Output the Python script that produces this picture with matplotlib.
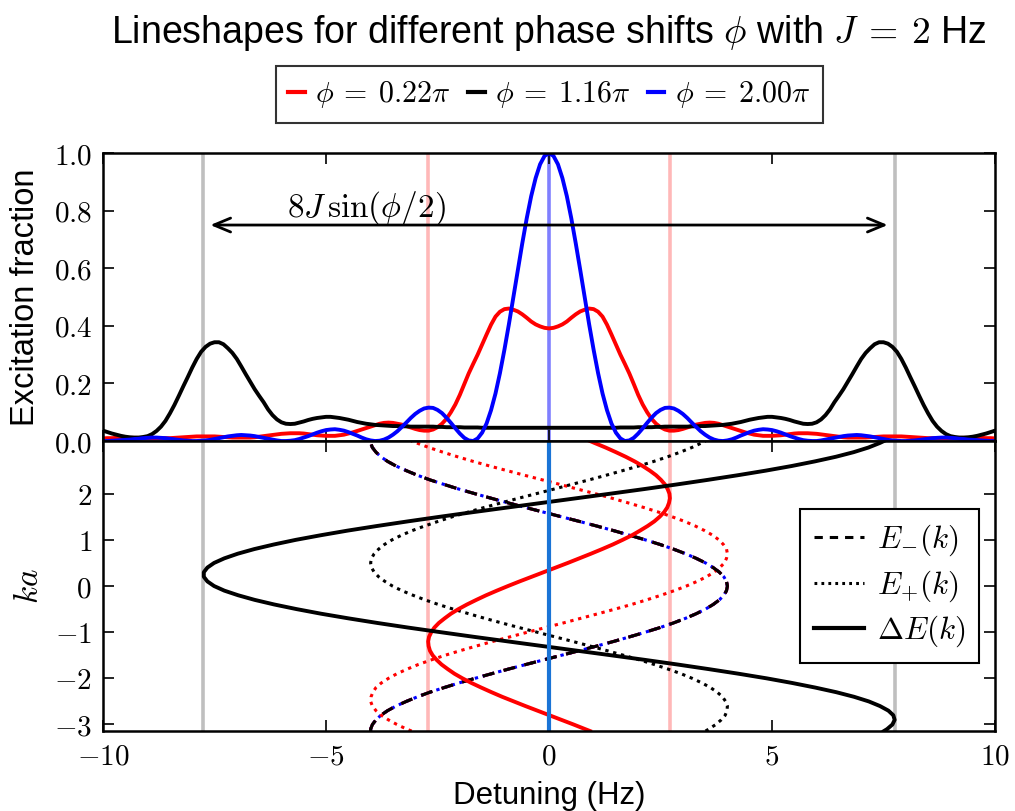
import numpy as np
import matplotlib
matplotlib.use("Agg")
import matplotlib.pyplot as plt
from matplotlib.lines import Line2D
from matplotlib.ticker import FuncFormatter, MultipleLocator, FixedLocator

plt.rcParams["font.family"] = ["Liberation Sans", "DejaVu Sans"]
plt.rcParams["mathtext.fontset"] = "cm"
plt.rcParams["lines.scale_dashes"] = False

# ---------------------------------------------------------------------------
# lineshapes, sampled every 0.1 Hz from -10 to 10 Hz
# ---------------------------------------------------------------------------
detuning = np.linspace(-10, 10, 201)

shape_022 = [
    0.009,
    0.010, 0.010, 0.011, 0.011, 0.011, 0.011, 0.011, 0.011, 0.010, 0.010,
    0.010, 0.010, 0.010, 0.010, 0.010, 0.011, 0.012, 0.013, 0.014, 0.015,
    0.016, 0.016, 0.016, 0.016, 0.016, 0.015, 0.014, 0.013, 0.012, 0.012,
    0.012, 0.012, 0.012, 0.013, 0.015, 0.017, 0.019, 0.021, 0.023, 0.025,
    0.026, 0.027, 0.027, 0.027, 0.026, 0.024, 0.022, 0.020, 0.019, 0.018,
    0.018, 0.018, 0.020, 0.022, 0.026, 0.030, 0.035, 0.040, 0.045, 0.050,
    0.055, 0.060, 0.063, 0.064, 0.063, 0.060, 0.057, 0.052, 0.047, 0.042,
    0.038, 0.036, 0.036, 0.040, 0.048, 0.060, 0.077, 0.100, 0.127, 0.160,
    0.198, 0.235, 0.268, 0.300, 0.335, 0.370, 0.404, 0.432, 0.449, 0.458,
    0.460, 0.456, 0.450, 0.440, 0.428, 0.415, 0.405, 0.398, 0.393,
    0.391,
    0.393, 0.398, 0.405, 0.415, 0.428, 0.440, 0.450, 0.456, 0.460,
    0.458, 0.449, 0.432, 0.404, 0.370, 0.335, 0.300, 0.268, 0.235, 0.198,
    0.160, 0.127, 0.100, 0.077, 0.060, 0.048, 0.040, 0.036, 0.036, 0.038,
    0.042, 0.047, 0.052, 0.057, 0.060, 0.063, 0.064, 0.063, 0.060, 0.055,
    0.050, 0.045, 0.040, 0.035, 0.030, 0.026, 0.022, 0.020, 0.018, 0.018,
    0.018, 0.019, 0.020, 0.022, 0.024, 0.026, 0.027, 0.027, 0.027, 0.026,
    0.025, 0.023, 0.021, 0.019, 0.017, 0.015, 0.013, 0.012, 0.012, 0.012,
    0.012, 0.012, 0.013, 0.014, 0.015, 0.016, 0.016, 0.016, 0.016, 0.016,
    0.015, 0.014, 0.013, 0.012, 0.011, 0.010, 0.010, 0.010, 0.010, 0.010,
    0.010, 0.010, 0.011, 0.011, 0.011, 0.011, 0.011, 0.011, 0.010, 0.010,
    0.009,
]
shape_116 = [
    0.036,
    0.031, 0.026, 0.022, 0.018, 0.015, 0.013, 0.012, 0.012, 0.014, 0.017,
    0.024, 0.035, 0.050, 0.070, 0.096, 0.125, 0.157, 0.190, 0.222, 0.255,
    0.285, 0.310, 0.327, 0.338, 0.343, 0.343, 0.336, 0.322, 0.306, 0.285,
    0.259, 0.232, 0.206, 0.180, 0.157, 0.135, 0.110, 0.090, 0.075, 0.065,
    0.060, 0.059, 0.060, 0.064, 0.068, 0.073, 0.077, 0.080, 0.082, 0.084,
    0.084, 0.082, 0.080, 0.077, 0.074, 0.070, 0.066, 0.063, 0.060, 0.058,
    0.056, 0.055, 0.054, 0.053, 0.052, 0.052, 0.051, 0.051, 0.050, 0.050,
    0.050, 0.050, 0.050, 0.050, 0.049, 0.049, 0.048, 0.048, 0.048, 0.048,
    0.047, 0.047, 0.047, 0.047, 0.046, 0.046, 0.046, 0.046, 0.046, 0.046,
    0.046, 0.046, 0.046, 0.046, 0.046, 0.046, 0.046, 0.046, 0.046,
    0.046,
    0.046, 0.046, 0.046, 0.046, 0.046, 0.046, 0.046, 0.046, 0.046,
    0.046, 0.046, 0.046, 0.046, 0.046, 0.046, 0.047, 0.047, 0.047, 0.047,
    0.048, 0.048, 0.048, 0.048, 0.049, 0.049, 0.050, 0.050, 0.050, 0.050,
    0.050, 0.050, 0.051, 0.051, 0.052, 0.052, 0.053, 0.054, 0.055, 0.056,
    0.058, 0.060, 0.063, 0.066, 0.070, 0.074, 0.077, 0.080, 0.082, 0.084,
    0.084, 0.082, 0.080, 0.077, 0.073, 0.068, 0.064, 0.060, 0.059, 0.060,
    0.065, 0.075, 0.090, 0.110, 0.135, 0.157, 0.180, 0.206, 0.232, 0.259,
    0.285, 0.306, 0.322, 0.336, 0.343, 0.343, 0.338, 0.327, 0.310, 0.285,
    0.255, 0.222, 0.190, 0.157, 0.125, 0.096, 0.070, 0.050, 0.035, 0.024,
    0.017, 0.014, 0.012, 0.012, 0.013, 0.015, 0.018, 0.022, 0.026, 0.031,
    0.036,
]
shape_200 = [
    0.000,
    0.000, 0.001, 0.002, 0.003, 0.004, 0.005, 0.007, 0.008, 0.010, 0.011,
    0.012, 0.012, 0.011, 0.010, 0.008, 0.006, 0.004, 0.002, 0.001, 0.000,
    0.000, 0.001, 0.002, 0.004, 0.007, 0.010, 0.013, 0.016, 0.018, 0.020,
    0.021, 0.020, 0.019, 0.017, 0.014, 0.011, 0.008, 0.005, 0.002, 0.000,
    0.000, 0.001, 0.003, 0.007, 0.012, 0.017, 0.023, 0.029, 0.034, 0.038,
    0.040, 0.041, 0.039, 0.036, 0.031, 0.025, 0.019, 0.012, 0.006, 0.002,
    0.000, 0.001, 0.005, 0.012, 0.022, 0.034, 0.049, 0.064, 0.080, 0.094,
    0.105, 0.113, 0.116, 0.115, 0.108, 0.097, 0.081, 0.063, 0.044, 0.026,
    0.011, 0.002, 0.000, 0.009, 0.029, 0.061, 0.107, 0.165, 0.236, 0.317,
    0.405, 0.499, 0.594, 0.686, 0.773, 0.850, 0.913, 0.961, 0.990,
    1.000,
    0.990, 0.961, 0.913, 0.850, 0.773, 0.686, 0.594, 0.499, 0.405,
    0.317, 0.236, 0.165, 0.107, 0.061, 0.029, 0.009, 0.000, 0.002, 0.011,
    0.026, 0.044, 0.063, 0.081, 0.097, 0.108, 0.115, 0.116, 0.113, 0.105,
    0.094, 0.080, 0.064, 0.049, 0.034, 0.022, 0.012, 0.005, 0.001, 0.000,
    0.002, 0.006, 0.012, 0.019, 0.025, 0.031, 0.036, 0.039, 0.041, 0.040,
    0.038, 0.034, 0.029, 0.023, 0.017, 0.012, 0.007, 0.003, 0.001, 0.000,
    0.000, 0.002, 0.005, 0.008, 0.011, 0.014, 0.017, 0.019, 0.020, 0.021,
    0.020, 0.018, 0.016, 0.013, 0.010, 0.007, 0.004, 0.002, 0.001, 0.000,
    0.000, 0.001, 0.002, 0.004, 0.006, 0.008, 0.010, 0.011, 0.012, 0.012,
    0.011, 0.010, 0.008, 0.007, 0.005, 0.004, 0.003, 0.002, 0.001, 0.000,
    0.000,
]

# ---------------------------------------------------------------------------
# band energies (Hz) vs quasimomentum ka
# ---------------------------------------------------------------------------
ka = np.concatenate([[-np.pi], np.round(np.arange(-3.1, 3.11, 0.1), 1), [np.pi]])

e_minus = [
    -4.00, -4.00, -3.96, -3.88, -3.77, -3.62, -3.43, -3.20, -2.95, -2.67, -2.35, -2.02, -1.66,
    -1.29, -0.91, -0.52, -0.12, 0.28, 0.68, 1.07, 1.45, 1.81, 2.16, 2.49, 2.79, 3.06,
    3.30, 3.51, 3.68, 3.82, 3.92, 3.98, 4.00, 3.98, 3.92, 3.82, 3.68, 3.51, 3.30,
    3.06, 2.79, 2.49, 2.16, 1.81, 1.45, 1.07, 0.68, 0.28, -0.12, -0.52, -0.91,
    -1.29, -1.66, -2.02, -2.35, -2.67, -2.95, -3.20, -3.43, -3.62, -3.77, -3.88, -3.96,
    -4.00, -4.00,
]
e_plus_022 = [
    -3.08, -3.19, -3.41, -3.60, -3.76, -3.88, -3.96, -4.00, -3.99, -3.95, -3.88, -3.76, -3.60,
    -3.41, -3.18, -2.93, -2.64, -2.33, -1.99, -1.63, -1.26, -0.87, -0.48, -0.08, 0.32,
    0.71, 1.10, 1.48, 1.85, 2.19, 2.51, 2.81, 3.08, 3.32, 3.53, 3.70, 3.83, 3.93,
    3.98, 4.00, 3.98, 3.91, 3.81, 3.67, 3.49, 3.28, 3.04, 2.76, 2.46, 2.13, 1.78,
    1.42, 1.04, 0.64, 0.25, -0.15, -0.55, -0.94, -1.33, -1.70, -2.05, -2.38, -2.69,
    -2.97, -3.08,
]
gap_022 = [
    0.92, 0.81, 0.55, 0.28, 0.01, -0.26, -0.53, -0.79, -1.05, -1.29, -1.52, -1.74, -1.94,
    -2.12, -2.27, -2.41, -2.52, -2.61, -2.67, -2.70, -2.71, -2.69, -2.64, -2.57, -2.47,
    -2.34, -2.20, -2.03, -1.84, -1.63, -1.41, -1.17, -0.92, -0.66, -0.39, -0.12, 0.15,
    0.42, 0.68, 0.94, 1.19, 1.43, 1.65, 1.86, 2.04, 2.21, 2.36, 2.48, 2.58, 2.65,
    2.69, 2.71, 2.70, 2.66, 2.60, 2.51, 2.40, 2.26, 2.10, 1.92, 1.72, 1.50, 1.27,
    1.02, 0.92,
]
e_plus_116 = [
    3.51, 3.58, 3.74, 3.86, 3.95, 3.99, 4.00, 3.96, 3.89, 3.77, 3.62, 3.43, 3.21,
    2.96, 2.67, 2.36, 2.03, 1.67, 1.30, 0.92, 0.53, 0.13, -0.27, -0.67, -1.06,
    -1.44, -1.80, -2.15, -2.48, -2.78, -3.05, -3.30, -3.51, -3.68, -3.82, -3.92, -3.98,
    -4.00, -3.98, -3.92, -3.82, -3.69, -3.52, -3.31, -3.07, -2.79, -2.49, -2.17, -1.82,
    -1.46, -1.08, -0.69, -0.29, 0.11, 0.50, 0.90, 1.28, 1.65, 2.01, 2.35, 2.66,
    2.94, 3.20, 3.42, 3.51,
]
gap_116 = [
    7.51, 7.58, 7.70, 7.75, 7.72, 7.61, 7.42, 7.17, 6.84, 6.44, 5.97, 5.45, 4.88,
    4.25, 3.58, 2.88, 2.15, 1.39, 0.62, -0.15, -0.92, -1.69, -2.43, -3.16, -3.85,
    -4.50, -5.11, -5.66, -6.16, -6.60, -6.97, -7.28, -7.51, -7.66, -7.74, -7.74, -7.66,
    -7.51, -7.28, -6.98, -6.61, -6.17, -5.68, -5.12, -4.52, -3.86, -3.17, -2.45, -1.71,
    -0.94, -0.17, 0.60, 1.37, 2.13, 2.86, 3.56, 4.23, 4.86, 5.44, 5.96, 6.43,
    6.83, 7.16, 7.42, 7.51,
]
# at phi = 2 pi both bands coincide and the gap vanishes
e_plus_200 = list(e_minus)
gap_200 = [0.0] * len(ka)

# half of the full width 8 J sin(phi/2) for each phase
half_width_022 = 2.71
half_width_116 = 7.75

RED = "red"
BLACK = "black"
BLUE = "blue"

fig = plt.figure(figsize=(10.15, 8.11), dpi=100)
ax1 = fig.add_axes([0.1015, 0.4562, 0.8788, 0.3551])
ax2 = fig.add_axes([0.1015, 0.0986, 0.8788, 0.3576], sharex=ax1)

for ax in (ax1, ax2):
    ax.axvline(-half_width_116, color="gray", alpha=0.5, lw=2.6, zorder=1)
    ax.axvline(half_width_116, color="gray", alpha=0.5, lw=2.6, zorder=1)
    ax.axvline(-half_width_022, color=RED, alpha=0.28, lw=2.6, zorder=1)
    ax.axvline(half_width_022, color=RED, alpha=0.28, lw=2.6, zorder=1)
ax1.axvline(0, color=BLUE, alpha=0.5, lw=2.6, zorder=1)

# upper panel: excitation lineshapes
ax1.plot(detuning, shape_022, color=RED, lw=2.8)
ax1.plot(detuning, shape_116, color=BLACK, lw=2.8)
ax1.plot(detuning, shape_200, color=BLUE, lw=2.8)

ax1.annotate("", xy=(-half_width_116, 0.75), xytext=(half_width_116, 0.75),
             arrowprops=dict(arrowstyle="<->,head_length=0.6,head_width=0.25",
                             mutation_scale=20, lw=2, color="black",
                             shrinkA=5, shrinkB=5))
ax1.text(-4.1, 0.81, r"$8J\,\sin(\phi/2)$", fontsize=24, ha="center", va="center")

ax1.set_xlim(-10, 10)
ax1.set_ylim(0, 1)
ax1.yaxis.set_major_locator(MultipleLocator(0.2))
ax1.yaxis.set_major_formatter(FuncFormatter(lambda v, _: r"$%.1f$" % v))
ax1.tick_params(labelbottom=False)
ax1.set_ylabel("Excitation fraction", fontsize=23.5)
ax1.yaxis.set_label_coords(-0.069, 0.5)

# lower panel: bands and their difference
dash = (0, (8.5, 7))
dot = (0, (2.4, 3.4))
ax2.plot(e_plus_200, ka, color=BLUE, lw=2.2, linestyle=dot)
ax2.plot(e_minus, ka, color=BLUE, lw=2.2, linestyle=dash)
ax2.plot(e_minus, ka, color=RED, lw=2.2, linestyle=dash)
ax2.plot(e_plus_022, ka, color=RED, lw=2.2, linestyle=dot)
ax2.plot(e_minus, ka, color=BLACK, lw=2.2, linestyle=dash)
ax2.plot(e_plus_116, ka, color=BLACK, lw=2.2, linestyle=dot)
ax2.plot(gap_022, ka, color=RED, lw=2.8)
ax2.plot(gap_116, ka, color=BLACK, lw=2.8)
ax2.plot(gap_200, ka, color="#1a74d6", lw=3.0)

ax2.set_ylim(-np.pi, np.pi)
ax2.xaxis.set_major_locator(MultipleLocator(5))
ax2.yaxis.set_major_locator(FixedLocator([-3, -2, -1, 0, 1, 2]))
ax2.xaxis.set_major_formatter(FuncFormatter(lambda v, _: r"$%d$" % round(v)))
ax2.yaxis.set_major_formatter(FuncFormatter(lambda v, _: r"$%d$" % round(v)))
ax2.set_xlabel("Detuning (Hz)", fontsize=22.5, labelpad=8)
ax2.set_ylabel(r"$ka$", fontsize=24)
ax2.yaxis.set_label_coords(-0.065, 0.5)

for ax in (ax1, ax2):
    ax.tick_params(direction="in", length=8, width=1.2, top=True, right=True,
                   labelsize=21, pad=8)
    for sp in ax.spines.values():
        sp.set_linewidth(1.8)

band_handles = [
    Line2D([], [], color="black", lw=2.2, linestyle=(0, (6, 5))),
    Line2D([], [], color="black", lw=2.2, linestyle=(0, (2, 3))),
    Line2D([], [], color="black", lw=3.0),
]
leg2 = ax2.legend(band_handles, [r"$E_{-}(k)$", r"$E_{+}(k)$", r"$\Delta E(k)$"],
                  loc="center right", fontsize=22.5, handlelength=1.6,
                  handletextpad=0.4, labelspacing=0.32, borderaxespad=0.5,
                  borderpad=0.45, fancybox=False, framealpha=1)
leg2.get_frame().set_edgecolor("black")
leg2.get_frame().set_linewidth(1.5)

phase_handles = [Line2D([], [], color=c, lw=3) for c in (RED, BLACK, BLUE)]
leg1 = fig.legend(phase_handles,
                  [r"$\phi\:=\:0.22\pi$", r"$\phi\:=\:1.16\pi$", r"$\phi\:=\:2.00\pi$"],
                  loc="center", bbox_to_anchor=(0.541, 0.8835), ncol=3,
                  fontsize=21.5, handlelength=0.55, handletextpad=0.35,
                  columnspacing=0.6, borderpad=0.42, fancybox=False)
leg1.get_frame().set_edgecolor("black")
leg1.get_frame().set_linewidth(1.5)

fig.text(0.541, 0.959,
         r"Lineshapes for different phase shifts $\phi$ with $J\:=\:2$ Hz",
         fontsize=27, ha="center", va="center")

fig.savefig("out.png", dpi=100)
